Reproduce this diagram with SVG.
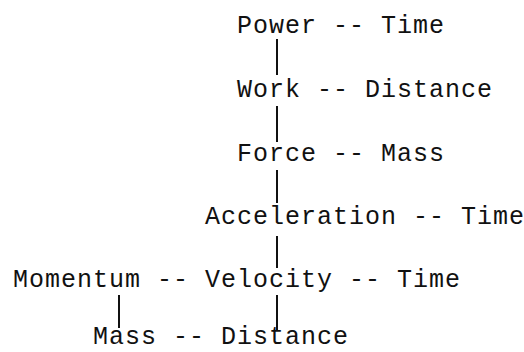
<svg xmlns="http://www.w3.org/2000/svg" width="524" height="352" viewBox="0 0 524 352">
<style>
text{font-family:"Liberation Mono","DejaVu Sans Mono",monospace;font-size:25px;letter-spacing:1px;fill:#111}
.c line{stroke:#111;stroke-width:2}
</style>
<rect width="524" height="352" fill="#fff"/>
<g id="n-power"><text x="237" y="33">Power -- Time</text></g>
<g id="n-work"><text x="237" y="97">Work -- Distance</text></g>
<g id="n-force"><text x="237" y="161">Force -- Mass</text></g>
<g id="n-acceleration"><text x="205" y="224">Acceleration -- Time</text></g>
<g id="n-momentum"><text x="13" y="287">Momentum -- Velocity -- Time</text></g>
<g id="n-mass"><text x="93" y="344">Mass -- Distance</text></g>
<g class="c" id="connectors">
<line x1="277" y1="39" x2="277" y2="75"/>
<line x1="277" y1="106" x2="277" y2="142"/>
<line x1="277" y1="170" x2="277" y2="203"/>
<line x1="277" y1="236" x2="277" y2="268"/>
<line x1="277" y1="295" x2="277" y2="330"/>
<line x1="119" y1="295" x2="119" y2="328"/>
</g>
</svg>
